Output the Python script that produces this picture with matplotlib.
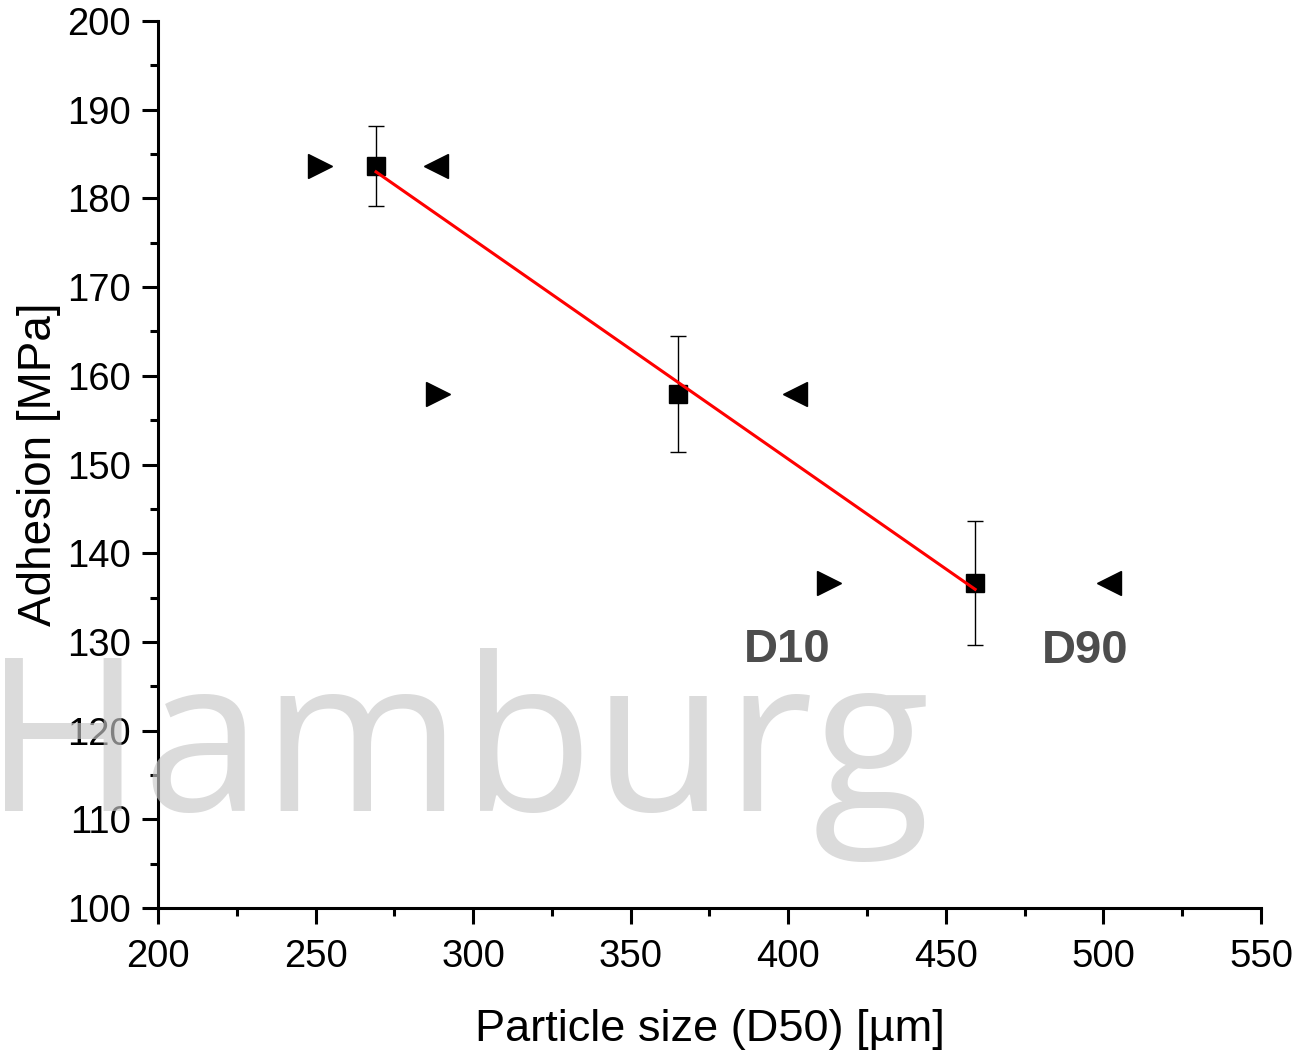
import numpy as np
import matplotlib
matplotlib.use("Agg")
import matplotlib.pyplot as plt
from matplotlib.ticker import MultipleLocator

plt.rcParams['font.family'] = ['Liberation Sans', 'DejaVu Sans']

# Mean particle size (D50) and measured adhesion with standard deviation
d50 = [269.2, 365.0, 459.3]
adhesion = [183.65, 157.95, 136.6]
adhesion_err = [4.5, 6.5, 7.0]

# D10 and D90 of each powder at the same adhesion level
d10 = [251.4, 288.9, 413.0]
d90 = [288.2, 402.2, 501.8]

fig = plt.figure(figsize=(12.97, 10.5), dpi=100)
ax = fig.add_axes([0.1218, 0.1352, 0.8504, 0.8448])

ax.errorbar(d50, adhesion, yerr=adhesion_err, fmt='s', color='black',
            markersize=13, ecolor='black', elinewidth=1.0, capsize=6,
            capthick=1.0, zorder=3)
ax.plot(d10, adhesion, linestyle='none', marker='>', markersize=17,
        color='black', zorder=3)
ax.plot(d90, adhesion, linestyle='none', marker='<', markersize=17,
        color='black', zorder=3)

# Linear regression through the D50 points
slope, intercept = np.polyfit(d50, adhesion, 1)
xf = np.array([min(d50), max(d50)])
ax.plot(xf, slope * xf + intercept, color='red', linewidth=2.2, zorder=4)

ax.text(399.6, 129.1, 'D10', fontsize=34, fontweight='bold', color='#4d4d4d',
        ha='center', va='center')
ax.text(494.2, 129.0, 'D90', fontsize=34, fontweight='bold', color='#4d4d4d',
        ha='center', va='center')

ax.set_xlim(200, 550)
ax.set_ylim(100, 200)
ax.xaxis.set_major_locator(MultipleLocator(50))
ax.xaxis.set_minor_locator(MultipleLocator(25))
ax.yaxis.set_major_locator(MultipleLocator(10))
ax.yaxis.set_minor_locator(MultipleLocator(5))

for side in ('top', 'right'):
    ax.spines[side].set_visible(False)
for side in ('left', 'bottom'):
    ax.spines[side].set_linewidth(2.2)

ax.tick_params(which='major', direction='out', length=11.5, width=2.2,
               labelsize=27.5, pad=8)
ax.tick_params(axis='x', which='major', pad=11)
ax.tick_params(which='minor', direction='out', length=5.5, width=2.2)

ax.set_xlabel('Particle size (D50) [µm]', fontsize=32.5, labelpad=24)
ax.set_ylabel('Adhesion [MPa]', fontsize=33, labelpad=4)

fig.text(-0.012, 0.228, 'Hamburg', fontsize=155, family='Open Sans',
         color='#c8c8c8', alpha=0.65, ha='left', va='baseline', zorder=10)

fig.savefig('out.png', dpi=100)
